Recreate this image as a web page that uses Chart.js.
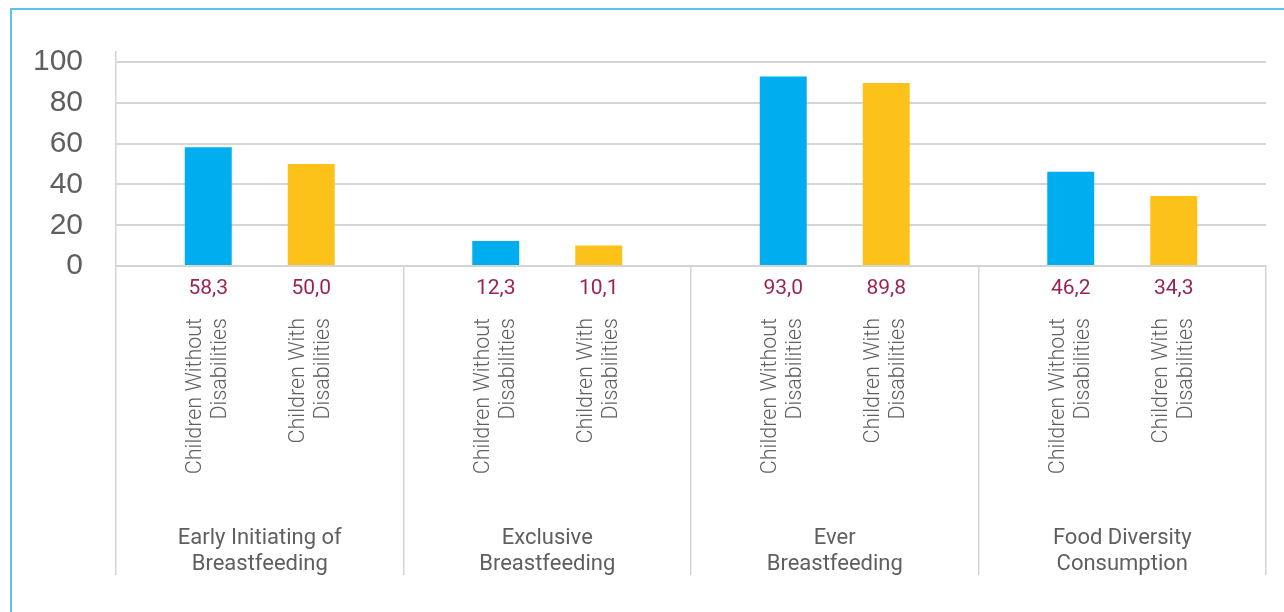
<!DOCTYPE html>
<html>
<head>
<meta charset="utf-8">
<script src="https://cdn.jsdelivr.net/npm/chart.js@4/dist/chart.umd.min.js"></script>
<style>
  body { margin: 0; background: #fff; }
  #frame { position: absolute; left: 10px; top: 8px; width: 1320px; height: 700px; border-left: 2px solid #5bc2ec; border-top: 2px solid #5bc2ec; }
  #wrap { position: absolute; left: 0; top: 0; width: 1284px; height: 612px; }
</style>
</head>
<body>
<div id="frame"></div>
<div id="wrap"><canvas id="grafico"></canvas></div>
<script>
// Dados do gráfico
const grupos = [
    ['Early Initiating of', 'Breastfeeding'],
    ['Exclusive', 'Breastfeeding'],
    ['Ever', 'Breastfeeding'],
    ['Food Diversity', 'Consumption']
];
const semDeficiencia = [58.3, 12.3, 93.0, 46.2];
const comDeficiencia = [50.0, 10.1, 89.8, 34.3];
const rotulosSeries = [
    ['Children Without', 'Disabilities'],
    ['Children With', 'Disabilities']
];
const ticksY = [0, 20, 40, 60, 80, 100];

const corTexto = '#5f5f5f';
const corValor = '#9b2453';
const corGrade = '#d4d4d4';

// Plugin que desenha os valores e os rótulos girados abaixo do eixo
const rotulosAbaixo = {
    id: 'rotulosAbaixo',
    afterDraw(chart) {
        const ctx = chart.ctx;
        const base = chart.chartArea.bottom;
        chart.data.datasets.forEach((ds, i) => {
            const meta = chart.getDatasetMeta(i);
            meta.data.forEach((bar, j) => {
                const x = bar.x;
                // valor
                ctx.save();
                ctx.fillStyle = corValor;
                ctx.font = '21px Roboto, "Liberation Sans", sans-serif';
                ctx.textAlign = 'center';
                ctx.textBaseline = 'middle';
                ctx.fillText(ds.data[j].toFixed(1).replace('.', ','), x, base + 23);
                ctx.restore();

                // rótulo da série, girado
                ctx.save();
                ctx.translate(x, base + 52);
                ctx.rotate(-Math.PI / 2);
                ctx.fillStyle = corTexto;
                ctx.font = '300 21.5px Roboto, "Liberation Sans", sans-serif';
                ctx.textAlign = 'right';
                ctx.textBaseline = 'middle';
                ctx.fillText(rotulosSeries[i][0], 0, -12.5);
                ctx.fillText(rotulosSeries[i][1], 0, 12.5);
                ctx.restore();
            });
        });
    }
};

const ctxGrafico = document.getElementById('grafico').getContext('2d');

const grafico = new Chart(ctxGrafico, {
    type: 'bar',
    data: {
        labels: grupos,
        datasets: [
            {
                label: 'Children Without Disabilities',
                data: semDeficiencia,
                backgroundColor: '#00aeef',
                categoryPercentage: 0.7165,
                barPercentage: 0.456
            },
            {
                label: 'Children With Disabilities',
                data: comDeficiencia,
                backgroundColor: '#fcc219',
                categoryPercentage: 0.7165,
                barPercentage: 0.456
            }
        ]
    },
    options: {
        responsive: true,
        maintainAspectRatio: false,
        animation: false,
        layout: { padding: { left: 0, right: 18, top: 52, bottom: 0 } },
        plugins: {
            legend: { display: false },
            tooltip: { enabled: false }
        },
        scales: {
            x: {
                grid: {
                    offset: true,
                    drawOnChartArea: false,
                    drawTicks: true,
                    tickLength: 309,
                    color: corGrade,
                    lineWidth: 1.5
                },
                border: { color: corGrade, width: 2 },
                ticks: {
                    color: corTexto,
                    font: { family: 'Roboto, "Liberation Sans", sans-serif', size: 22, lineHeight: 1.2 },
                    padding: -50,
                    maxRotation: 0,
                    autoSkip: false
                },
                afterFit(scale) { scale.height = 346; }
            },
            y: {
                min: 0,
                max: 105,
                afterBuildTicks(scale) {
                    scale.ticks = ticksY.map(v => ({ value: v }));
                },
                grid: {
                    color: corGrade,
                    lineWidth: 2,
                    drawTicks: false
                },
                border: { color: corGrade, width: 1.5 },
                ticks: {
                    color: corTexto,
                    font: { family: '"Liberation Sans", Arial, sans-serif', size: 30 },
                    padding: 33
                },
                afterFit(scale) { scale.width = 116; }
            }
        }
    },
    plugins: [rotulosAbaixo]
});
</script>
</body>
</html>
